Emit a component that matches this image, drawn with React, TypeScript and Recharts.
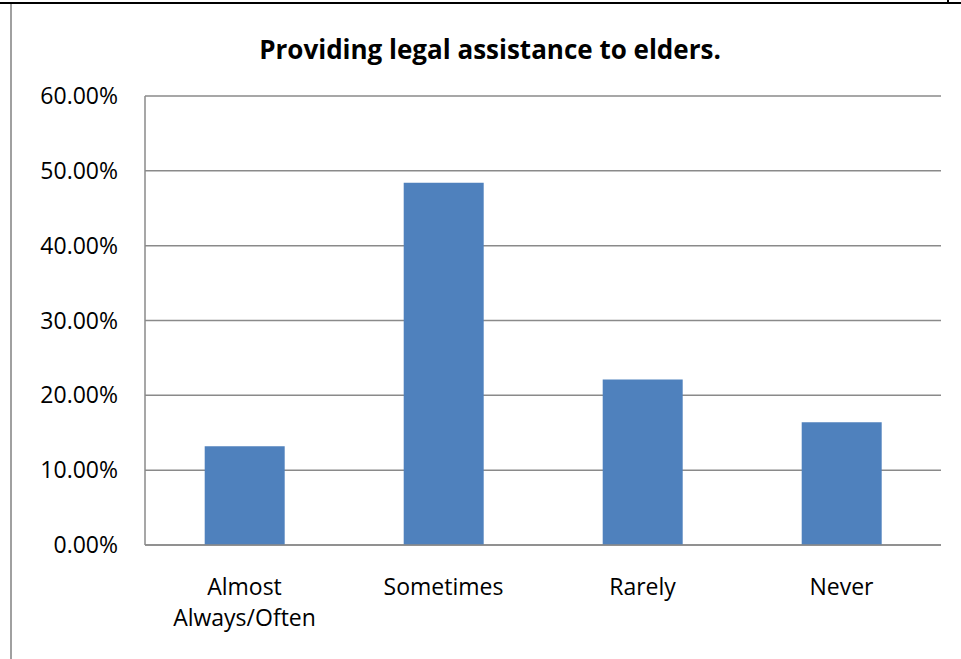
import { BarChart, Bar, XAxis, YAxis, CartesianGrid } from 'recharts';

const categories = ['Almost Always/Often', 'Sometimes', 'Rarely', 'Never'];
const percentages = [13.2, 48.4, 22.1, 16.4];
const yTicks = [0, 10, 20, 30, 40, 50, 60];

const data = categories.map((name, i) => ({ name, value: percentages[i] }));

const FONT = '"Open Sans", sans-serif';
const GRID = '#8a8a8a';

function CategoryTick({ x, y, payload }: any) {
  const label: string = payload.value;
  const lines = label.length > 10 ? label.split(' ') : [label];
  return (
    <g>
      {lines.map((line, i) => (
        <text
          key={i}
          x={x}
          y={y + 42 + i * 31}
          dy="0.355em"
          textAnchor="middle"
          fill="#000"
          fontSize={23}
          fontFamily={FONT}
        >
          {line}
        </text>
      ))}
    </g>
  );
}

export default function App() {
  return (
    <div style={{ position: 'absolute', left: 0, top: 0, width: 961, height: 659, background: '#fff', overflow: 'hidden' }}>
      {/* page frame bits */}
      <div style={{ position: 'absolute', left: 0, top: 2, width: 961, height: 2, background: '#000' }} />
      <div style={{ position: 'absolute', left: 10, top: 4, width: 2, height: 655, background: '#a0a0a0' }} />
      <div style={{ position: 'absolute', left: 947, top: 0, width: 2, height: 4, background: '#000' }} />
      <div
        style={{
          position: 'absolute',
          left: 0,
          width: 980,
          top: 31,
          textAlign: 'center',
          fontFamily: FONT,
          fontWeight: 'bold',
          fontSize: 26,
          color: '#000',
        }}
      >
        Providing legal assistance to elders.
      </div>
      <div style={{ position: 'absolute', left: 0, top: 0 }}>
        <BarChart
          width={961}
          height={659}
          data={data}
          margin={{ top: 96, right: 20, left: 0, bottom: 0 }}
          barCategoryGap="30%"
        >
          <CartesianGrid vertical={false} stroke={GRID} strokeWidth={1.5} />
          <XAxis
            dataKey="name"
            axisLine={{ stroke: GRID, strokeWidth: 1.5 }}
            tickLine={false}
            tickSize={0}
            tickMargin={0}
            interval={0}
            height={114}
            tick={<CategoryTick />}
          />
          <YAxis
            width={145}
            domain={[0, 60]}
            ticks={yTicks}
            axisLine={{ stroke: GRID, strokeWidth: 1.5 }}
            tickLine={false}
            tickSize={0}
            tickMargin={27}
            tick={{ fill: '#000', fontSize: 23, fontFamily: FONT }}
            tickFormatter={(v) => `${Number(v).toFixed(2)}%`}
          />
          <Bar dataKey="value" fill="#4f81bd" isAnimationActive={false} />
        </BarChart>
      </div>
    </div>
  );
}
